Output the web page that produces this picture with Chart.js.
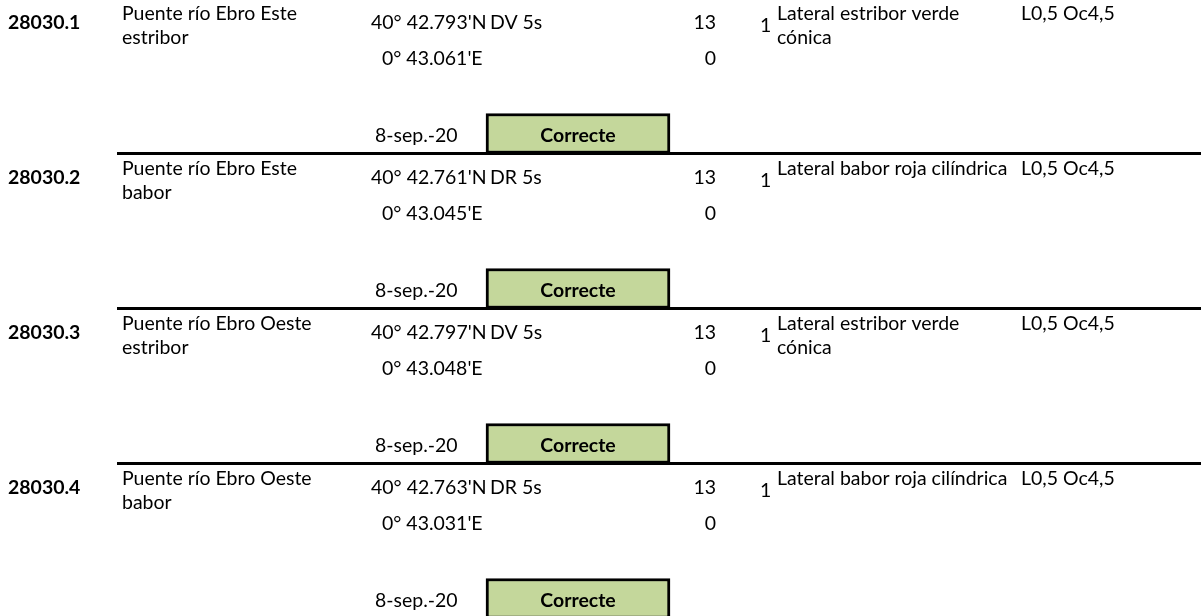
<!DOCTYPE html>
<html>
<head>
<meta charset="utf-8">
<script src="https://cdn.jsdelivr.net/npm/chart.js@4.4.0/dist/chart.umd.min.js"></script>
<style>
  html, body { margin: 0; padding: 0; background: #fff; }
  #wrap { width: 1201px; height: 616px; }
</style>
</head>
<body>
<div id="wrap"><canvas id="fichaChart" width="1201" height="616"></canvas></div>
<script>
// one record per buoy
const ids = ['28030.1', '28030.2', '28030.3', '28030.4'];
const names = [
  ['Puente río Ebro Este', 'estribor'],
  ['Puente río Ebro Este', 'babor'],
  ['Puente río Ebro Oeste', 'estribor'],
  ['Puente río Ebro Oeste', 'babor']
];
const lats = ["40° 42.793'N", "40° 42.761'N", "40° 42.797'N", "40° 42.763'N"];
const lons = ["0° 43.061'E", "0° 43.045'E", "0° 43.048'E", "0° 43.031'E"];
const lights = ['DV 5s', 'DR 5s', 'DV 5s', 'DR 5s'];
const heights = [13, 13, 13, 13];
const heightsLow = [0, 0, 0, 0];
const ranges = [1, 1, 1, 1];
const types = [
  ['Lateral estribor verde', 'cónica'],
  ['Lateral babor roja cilíndrica'],
  ['Lateral estribor verde', 'cónica'],
  ['Lateral babor roja cilíndrica']
];
const rhythms = ['L0,5 Oc4,5', 'L0,5 Oc4,5', 'L0,5 Oc4,5', 'L0,5 Oc4,5'];
const dates = ['8-sep.-20', '8-sep.-20', '8-sep.-20', '8-sep.-20'];
const status = ['Correcte', 'Correcte', 'Correcte', 'Correcte'];

// layout (x in page columns, offsets in px inside a record)
const ROW_H = 155;
const COL = { id: 8, name: 122, lat: 371, lon: 382, light: 490, alt: 716, range: 760,
              type: 777, rhythm: 1021, date: 375, boxL: 486, boxR: 670, lineL: 117, lineR: 1201 };
const OFF = { l1: 21, l2: 45, top: 30, range: 33, low: 66, foot: 143, box: 135 };

const boxData = status.map((s, i) => ({ x: [COL.boxL, COL.boxR], y: i + OFF.box / ROW_H }));
const lineData = ids.slice(1).map((id, i) => ({ x: [COL.lineL, COL.lineR], y: i + 1 }));

const textPlugin = {
  id: 'fichaText',
  afterDatasetsDraw(chart) {
    const { ctx, scales: { x, y } } = chart;
    const px = c => x.getPixelForValue(c);
    const py = (i, off) => y.getPixelForValue(i + off / ROW_H);

    ctx.save();
    ctx.font = '100px Lato';
    const size = 100 * 175 / ctx.measureText('Puente río Ebro Este').width;
    const reg = size.toFixed(2) + 'px Lato';
    const bold = 'bold ' + size.toFixed(2) + 'px Lato';
    ctx.fillStyle = '#000';
    ctx.textBaseline = 'alphabetic';

    ids.forEach((id, i) => {
      ctx.textAlign = 'left';
      ctx.font = bold;
      ctx.fillText(id, px(COL.id), py(i, OFF.top));

      ctx.font = reg;
      names[i].forEach((t, k) => ctx.fillText(t, px(COL.name), py(i, k ? OFF.l2 : OFF.l1)));
      ctx.fillText(lats[i], px(COL.lat), py(i, OFF.top));
      ctx.fillText(lons[i], px(COL.lon), py(i, OFF.low));
      ctx.fillText(lights[i], px(COL.light), py(i, OFF.top));
      ctx.fillText(String(ranges[i]), px(COL.range), py(i, OFF.range));
      types[i].forEach((t, k) => ctx.fillText(t, px(COL.type), py(i, k ? OFF.l2 : OFF.l1)));
      ctx.fillText(rhythms[i], px(COL.rhythm), py(i, OFF.l1));
      ctx.fillText(dates[i], px(COL.date), py(i, OFF.foot));

      ctx.textAlign = 'right';
      ctx.fillText(String(heights[i]), px(COL.alt), py(i, OFF.top));
      ctx.fillText(String(heightsLow[i]), px(COL.alt), py(i, OFF.low));

      ctx.textAlign = 'center';
      ctx.font = bold;
      ctx.fillText(status[i], px((COL.boxL + COL.boxR) / 2), py(i, OFF.foot));
    });
    ctx.restore();
  }
};

new Chart(document.getElementById('fichaChart').getContext('2d'), {
  type: 'bar',
  data: {
    datasets: [
      {
        label: 'separadores',
        data: lineData,
        backgroundColor: '#000',
        borderWidth: 0,
        grouped: false,
        maxBarThickness: 3,
        order: 0
      },
      {
        label: 'estado',
        data: boxData,
        backgroundColor: '#c4d79b',
        borderColor: '#000',
        borderWidth: 3,
        borderSkipped: false,
        barThickness: 40,
        order: 1
      }
    ]
  },
  options: {
    indexAxis: 'y',
    responsive: false,
    animation: false,
    layout: { padding: 0 },
    plugins: { legend: { display: false }, tooltip: { enabled: false } },
    scales: {
      x: { type: 'linear', display: false, offset: false, min: 0, max: 1201 },
      y: { type: 'linear', display: false, offset: false, reverse: true,
           min: 1.5 / ROW_H, max: 617.5 / ROW_H, ticks: { stepSize: 1 } }
    }
  },
  plugins: [textPlugin]
});
</script>
</body>
</html>
